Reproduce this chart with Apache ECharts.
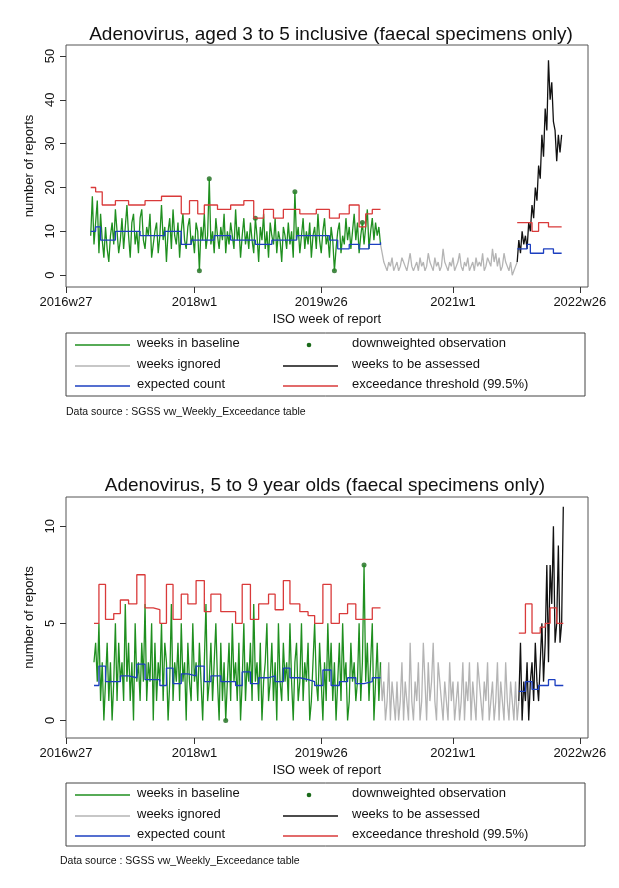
<!DOCTYPE html>
<html>
<head>
<meta charset="UTF-8">
<script src="https://cdn.jsdelivr.net/npm/echarts@6.0.0/dist/echarts.min.js"></script>
<style>
  * { margin: 0; padding: 0; }
  body { background: #fff; }
  #chart { width: 619px; height: 888px; }
</style>
</head>
<body>
<div id="chart"></div>
<script>
// x axis is week index counted from 2016w27
const xTickWeeks = [0, 78, 155, 235, 312];
const xTickLabels = ['2016w27', '2018w1', '2019w26', '2021w1', '2022w26'];

// ---- panel 1: aged 3 to 5 ----
const topGreenStart = 15;
const topGreen = [
  9,18,7,12,17,5,14,8,4,11,6,3,9,12,7,15,10,5,8,13,
  6,11,16,9,4,12,14,7,10,5,13,15,8,6,11,9,14,4,7,10,
  12,5,9,16,8,11,3,10,13,6,15,9,7,12,4,10,14,8,6,11,
  13,7,9,5,12,10,1,11,8,14,6,9,22,7,10,5,13,9,6,11,
  8,14,5,10,7,12,9,6,15,8,11,4,9,13,7,10,6,12,8,5,
  13,9,3,11,8,14,6,10,4,12,9,7,13,5,10,8,3,11,9,6,
  12,7,10,4,19,8,11,5,9,13,6,10,7,12,4,9,11,6,14,8,
  5,10,13,7,9,4,11,8,1,6,10,12,5,9,7,13,8,11,6,10,
  14,8,12,5,9,12,7,11,15,6,10,13,8,12,9,11,7
];
const topDotWeeks = [81, 87, 115, 139, 163, 180];
const topGreyStart = 191;
const topGrey = [
  7,5,3,2,1,3,2,4,1,2, 3,1,2,4,3,2,1,3,5,2, 1,2,3,1,4,2,3,1,2,5,
  3,2,1,4,2,3,1,2,6,3, 2,1,3,2,4,1,2,3,5,2, 1,3,2,4,1,2,3,1,4,2,
  3,2,5,1,2,4,3,2,6,3, 5,2,4,1,2,5,3,2,1,3, 0,1,2,3
];
const topBlackStart = 274;
const topBlack = [3,8,5,10,7,9,6,12,10,16,13,20,17,25,22,32,27,38,33,49,40,44,35,33,26,32,28,32];
const topRedWeeks = [15,18,22,30,38,48,58,70,75,80,84,92,100,108,114,120,126,132,142,152,160,166,172,178,182,186,191];
const topRedVals  = [20,19,16,17,16,17,18,14,17,14,16,15,16,17,13,15,13,15,14,15,13,14,16,11,14,15,15];
const topBlueWeeks = [15,18,21,30,45,60,70,76,90,100,115,125,140,160,165,172,178,184,191];
const topBlueVals  = [10,11,8,10,9,10,7,8,9,8,7,8,9,8,6,7,6,7,7.5];
const topRed2Weeks = [274,283,287,293,301];
const topRed2Vals  = [12,10,12,11,11];
const topBlue2Weeks = [274,280,282,290,296,301];
const topBlue2Vals  = [6,7,5,6,5,5];

// ---- panel 2: 5 to 9 year olds ----
const botGreenStart = 17;
const botGreen = [
  3,4,2,5,1,3,0,2,4,1,3,0,2,5,1,4,2,3,1,6,
  2,4,1,3,0,5,2,3,1,4,2,6,1,3,2,5,0,4,1,3,
  2,5,1,4,3,0,2,6,1,3,2,4,1,5,2,3,0,4,2,1,
  5,2,3,1,4,2,0,3,6,1,2,4,1,3,5,2,0,4,1,3,
  0,2,4,1,5,2,3,1,4,0,2,5,1,3,2,4,1,6,2,3,
  1,4,0,2,3,5,1,2,4,1,3,0,5,2,1,4,2,3,1,5,
  2,0,3,4,1,2,5,1,3,2,4,0,1,3,5,2,1,4,2,0,
  3,1,5,2,4,1,3,0,2,4,1,5,2,3,0,1,4,2,3,1,
  2,5,1,3,8,2,4,1,3,5,0,2,4,1,3
];
const botDotWeeks = [97, 181];
const botGreyStart = 191;
const botGrey = [
  3,1,2,0,1,3,0,2,1,0, 2,0,1,3,0,2,1,0,4,1, 0,2,1,3,0,1,4,2,0,3,
  1,2,4,1,0,3,2,1,0,2, 1,0,3,1,2,0,1,2,0,1, 3,0,2,1,3,0,2,1,0,3,
  2,1,0,2,1,3,0,1,2,0, 1,3,0,2,1,0,3,1,0,2, 1,0,2,0,1
];
const botBlackStart = 275;
const botBlack = [1,4,0,2,1,3,0,2,3,1,4,2,1,3,5,2,4,8,3,8,6,10,4,5,9,4,5,11];
const botRedWeeks = [17,20,24,29,33,38,43,48,53,57,61,65,70,74,79,84,88,94,98,103,107,112,117,123,127,132,136,142,147,151,156,161,166,171,176,181,186,191];
const botRedVals  = [5,7,5.2,5.5,6.2,6,7.5,5.8,5.7,5,7,5.2,6.5,6,7.2,5.6,6.5,5.6,5.6,5,7,5.2,6,6.5,5.7,7.2,6,5.6,5.4,5,7,5,5.5,6,5.2,5.2,5.8,5.8];
const botBlueWeeks = [17,20,24,29,33,38,43,48,53,57,61,65,70,74,79,84,88,94,98,103,107,112,117,123,127,132,136,142,147,151,156,161,166,171,176,181,186,191];
const botBlueVals  = [1.8,2.8,2,2,2.3,2.2,2.9,2.1,2.1,1.8,2.7,1.9,2.4,2.3,2.8,2,2.3,2,2,1.8,2.5,1.9,2.2,2.3,2,2.7,2.2,2.1,2,1.8,2.6,1.8,2,2.2,1.9,2,2.2,2.2];
const botRed2Weeks = [275,279,283,288,291,294,298,302];
const botRed2Vals  = [4.5,6,4.5,4.8,5,5.8,5,5];
const botBlue2Weeks = [275,279,283,287,293,297,302];
const botBlue2Vals  = [1.5,2,1.6,1.8,2.1,1.8,1.8];

const GREEN = '#1f8f1f', GREY = '#b4b4b4', BLACK = '#111111', BLUE = '#1c3fc0', RED = '#d93a3a';
const FONT = '"Liberation Sans", Arial, sans-serif';

function seq(start, vals) { return vals.map((v, i) => [start + i, v]); }
function pairs(ws, vs) { return ws.map((w, i) => [w, vs[i]]); }
function line(name, data, color, g, step) {
  return { name, type: 'line', xAxisIndex: g, yAxisIndex: g, data, step: step ? 'end' : false,
    showSymbol: false, symbol: 'none', silent: true,
    lineStyle: { color, width: 1.3 }, itemStyle: { color } };
}
function dots(green, start, weeks, g) {
  return { name: 'downweighted observation', type: 'scatter', xAxisIndex: g, yAxisIndex: g,
    data: weeks.map(w => [w, green[w - start]]), symbolSize: 5, itemStyle: { color: '#1a6a1a' } };
}

function xAxis(g) {
  return { gridIndex: g, type: 'value', min: 0, max: 317,
    axisLine: { show: false, onZero: false }, splitLine: { show: false },
    axisTick: { show: true, customValues: xTickWeeks, length: 6, lineStyle: { color: '#333' } },
    axisLabel: { customValues: xTickWeeks, color: '#111', fontSize: 13, fontFamily: FONT, margin: 9,
      formatter: v => xTickLabels[xTickWeeks.indexOf(v)] },
    name: 'ISO week of report', nameLocation: 'middle', nameGap: 26,
    nameTextStyle: { color: '#111', fontSize: 13, fontFamily: FONT } };
}
function yAxis(g, min, max, ticks) {
  return { gridIndex: g, type: 'value', min, max,
    axisLine: { show: false, onZero: false }, splitLine: { show: false },
    axisTick: { show: true, customValues: ticks, length: 6, lineStyle: { color: '#333' } },
    axisLabel: { customValues: ticks, rotate: 90, color: '#111', fontSize: 13, fontFamily: FONT, margin: 9 },
    name: 'number of reports', nameLocation: 'middle', nameGap: 27, nameRotate: 90,
    nameTextStyle: { color: '#111', fontSize: 13, fontFamily: FONT } };
}

function legendBox(top) {
  const rows = [top + 12, top + 33, top + 53];
  const txt = (x, y, s) => ({ type: 'text', left: x, top: y - 8,
    style: { text: s, fill: '#111', font: '13px ' + FONT } });
  const ln = (x1, x2, y, c) => ({ type: 'line', shape: { x1, y1: y, x2, y2: y }, style: { stroke: c, lineWidth: 1.4 } });
  return [
    { type: 'rect', shape: { x: 66, y: top, width: 519, height: 63 }, style: { fill: 'none', stroke: '#444', lineWidth: 1 } },
    ln(75, 130, rows[0], GREEN), txt(137, rows[0], 'weeks in baseline'),
    ln(75, 130, rows[1], GREY), txt(137, rows[1], 'weeks ignored'),
    ln(75, 130, rows[2], BLUE), txt(137, rows[2], 'expected count'),
    { type: 'circle', shape: { cx: 309, cy: rows[0], r: 2.3 }, style: { fill: '#1a6a1a' } },
    txt(352, rows[0], 'downweighted observation'),
    ln(283, 338, rows[1], BLACK), txt(352, rows[1], 'weeks to be assessed'),
    ln(283, 338, rows[2], RED), txt(352, rows[2], 'exceedance threshold (99.5%)'),
  ];
}

const chart = echarts.init(document.getElementById('chart'));
chart.setOption({
  animation: false,
  title: [
    { text: 'Adenovirus, aged 3 to 5 inclusive (faecal specimens only)', left: 326, top: 20, textAlign: 'center',
      textStyle: { fontSize: 19, fontWeight: 'normal', color: '#111', fontFamily: FONT } },
    { text: 'Adenovirus, 5 to 9 year olds (faecal specimens only)', left: 320, top: 471, textAlign: 'center',
      textStyle: { fontSize: 19, fontWeight: 'normal', color: '#111', fontFamily: FONT } }
  ],
  grid: [
    { left: 66, right: 31, top: 45, height: 242, show: true, borderColor: '#555', borderWidth: 1, backgroundColor: '#fff' },
    { left: 66, right: 31, top: 497, height: 241, show: true, borderColor: '#555', borderWidth: 1, backgroundColor: '#fff' }
  ],
  xAxis: [xAxis(0), xAxis(1)],
  yAxis: [yAxis(0, -2.7, 52.5, [0, 10, 20, 30, 40, 50]), yAxis(1, -0.9, 11.5, [0, 5, 10])],
  series: [
    line('weeks ignored', seq(topGreyStart, topGrey), GREY, 0),
    line('weeks in baseline', seq(topGreenStart, topGreen), GREEN, 0),
    line('weeks to be assessed', seq(topBlackStart, topBlack), BLACK, 0),
    line('exceedance threshold (99.5%)', pairs(topRedWeeks, topRedVals), RED, 0, true),
    line('exceedance threshold (99.5%)', pairs(topRed2Weeks, topRed2Vals), RED, 0, true),
    line('expected count', pairs(topBlueWeeks, topBlueVals), BLUE, 0, true),
    line('expected count', pairs(topBlue2Weeks, topBlue2Vals), BLUE, 0, true),
    dots(topGreen, topGreenStart, topDotWeeks, 0),
    line('weeks ignored', seq(botGreyStart, botGrey), GREY, 1),
    line('weeks in baseline', seq(botGreenStart, botGreen), GREEN, 1),
    line('weeks to be assessed', seq(botBlackStart, botBlack), BLACK, 1),
    line('exceedance threshold (99.5%)', pairs(botRedWeeks, botRedVals), RED, 1, true),
    line('exceedance threshold (99.5%)', pairs(botRed2Weeks, botRed2Vals), RED, 1, true),
    line('expected count', pairs(botBlueWeeks, botBlueVals), BLUE, 1, true),
    line('expected count', pairs(botBlue2Weeks, botBlue2Vals), BLUE, 1, true),
    dots(botGreen, botGreenStart, botDotWeeks, 1)
  ],
  graphic: [
    ...legendBox(333),
    { type: 'text', left: 66, top: 407, style: { text: 'Data source : SGSS vw_Weekly_Exceedance table', fill: '#111', font: '10.5px ' + FONT } },
    ...legendBox(783),
    { type: 'text', left: 60, top: 856, style: { text: 'Data source : SGSS vw_Weekly_Exceedance table', fill: '#111', font: '10.5px ' + FONT } }
  ]
});
</script>
</body>
</html>
